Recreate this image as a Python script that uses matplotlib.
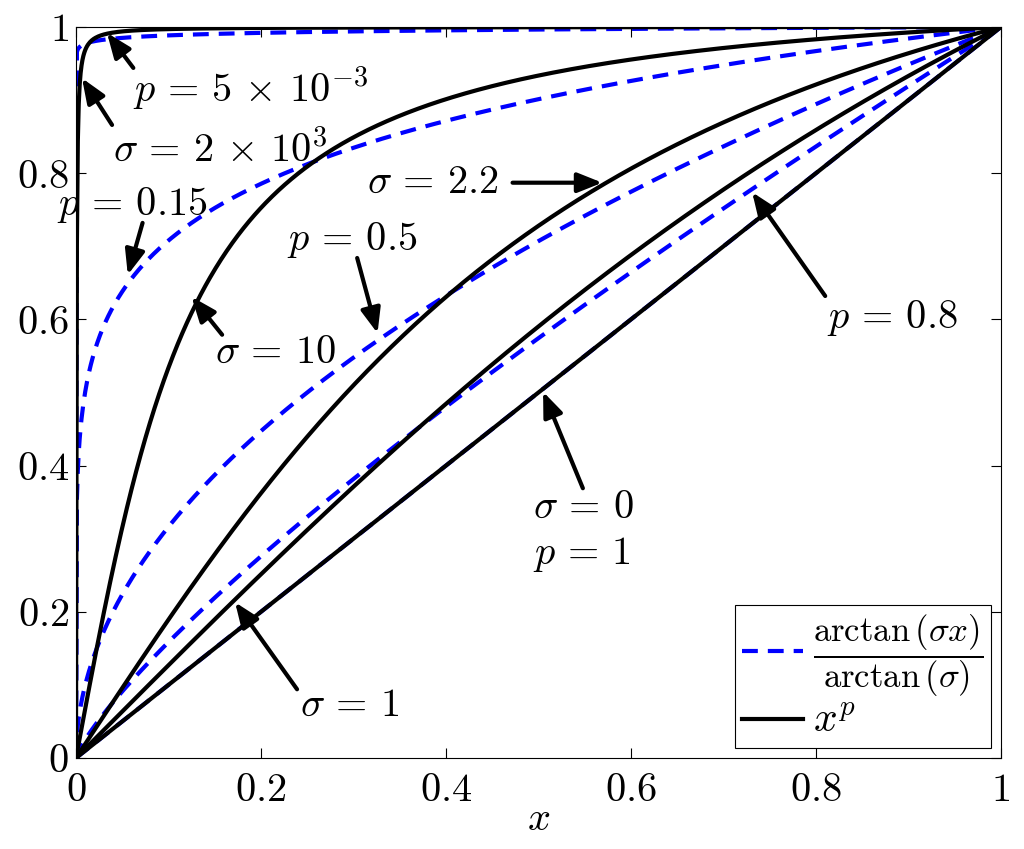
import numpy as np
import matplotlib
matplotlib.use("Agg")
import matplotlib.pyplot as plt
from matplotlib.lines import Line2D

plt.rcParams['mathtext.fontset'] = 'cm'
plt.rcParams['font.family'] = 'serif'
plt.rcParams['font.serif'] = ['DejaVu Serif']

# curve parameters
sigma_vals = [0, 1, 2.2, 10, 2e3]
p_vals = [1, 0.8, 0.5, 0.15, 5e-3]
x = np.linspace(0, 1, 1001)

ticks = [0, 0.2, 0.4, 0.6, 0.8, 1]
tick_labels = ['$0$', '$0.2$', '$0.4$', '$0.6$', '$0.8$', '$1$']

# (text, text xy, arrow tail xy, arrow head xy)
notes = [
    (r'$p\,=\,5\,\times\,10^{-3}$', (0.062, 0.917), (0.062, 0.944), (0.0335, 0.992)),
    (r'$\sigma\,=\,2\,\times\,10^{3}$', (0.04, 0.832), (0.039, 0.866), (0.0065, 0.930)),
    (r'$p\,=\,0.15$', (-0.02, 0.757), (0.072, 0.732), (0.056, 0.661)),
    (r'$\sigma\,=\,10$', (0.150, 0.555), (0.158, 0.579), (0.125, 0.631)),
    (r'$p\,=\,0.5$', (0.228, 0.709), (0.304, 0.684), (0.326, 0.581)),
    (r'$\sigma\,=\,2.2$', (0.315, 0.787), (0.472, 0.787), (0.569, 0.787)),
    (r'$p\,=\,0.8$', (0.812, 0.602), (0.810, 0.632), (0.731, 0.774)),
    (r'$\sigma\,=\,1$', (0.242, 0.072), (0.239, 0.094), (0.172, 0.213)),
]

fig = plt.figure(figsize=(10.24, 8.49), dpi=100)
ax = fig.add_axes([0.0742, 0.1072, 0.9033, 0.861])

for p in p_vals:
    ax.plot(x, x ** p, color='blue', lw=3, dashes=(3.8, 2.4), solid_capstyle='butt')
for s in sigma_vals:
    y = x if s == 0 else np.arctan(s * x) / np.arctan(s)
    ax.plot(x, y, color='black', lw=3)

ax.set_xlim(0, 1)
ax.set_ylim(0, 1)
ax.set_xticks(ticks)
ax.set_xticklabels(tick_labels)
ax.set_yticks(ticks)
ax.set_yticklabels(tick_labels)
ax.tick_params(direction='in', length=7, width=0.8, top=True, right=True,
               labelsize=29)
ax.tick_params(axis='x', pad=10)
ax.tick_params(axis='y', pad=5)
for sp in ax.spines.values():
    sp.set_linewidth(0.8)
ax.set_xlabel('$x$', fontsize=29, labelpad=-6)

arrow = dict(arrowstyle='-|>,head_length=0.5,head_width=0.2', color='black',
             lw=3, mutation_scale=30, shrinkA=0, shrinkB=0)
for txt, txy, tail, head in notes:
    ax.text(txy[0], txy[1], txt, fontsize=29, ha='left', va='center')
    ax.annotate('', xy=head, xytext=tail, arrowprops=arrow)

ax.text(0.494, 0.343, r'$\sigma\,=\,0$', fontsize=29, ha='left', va='center')
ax.text(0.494, 0.278, r'$p\,=\,1$', fontsize=29, ha='left', va='center')
ax.annotate('', xy=(0.505, 0.501), xytext=(0.548, 0.369), arrowprops=arrow)

handles = [Line2D([], [], color='blue', lw=3, dashes=(3.8, 2.4)),
           Line2D([], [], color='black', lw=3)]
labels = [r'$\dfrac{\mathrm{arctan}\,(\sigma x)}{\mathrm{arctan}\,(\sigma)}$', '$x^p$']
leg = ax.legend(handles, labels, loc='lower right', fontsize=25, fancybox=False,
                framealpha=1, edgecolor='black', handlelength=1.75,
                borderaxespad=0.3, handletextpad=0.3, borderpad=0.2,
                labelspacing=0.0)
leg.get_frame().set_linewidth(0.8)
leg.get_texts()[1].set_fontsize(30)

fig.savefig('out.png', dpi=100)
